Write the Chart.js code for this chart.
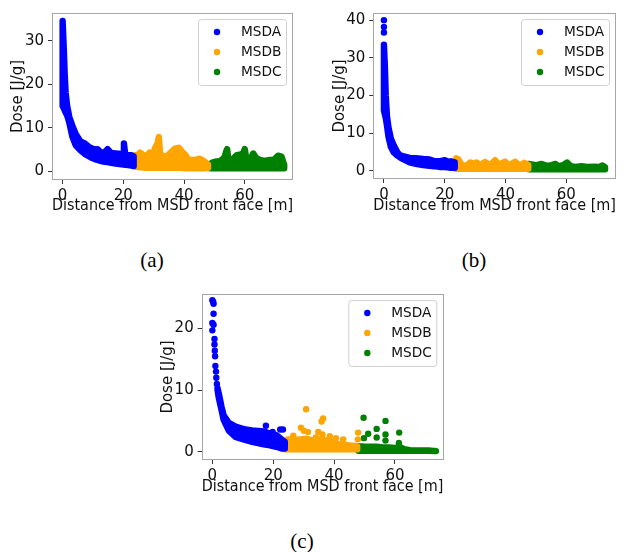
<!DOCTYPE html>
<html><head><meta charset="utf-8">
<script src="https://cdn.jsdelivr.net/npm/chart.js@4.4.0/dist/chart.umd.min.js"></script>
<style>
html,body{margin:0;padding:0;background:#fff;width:632px;height:552px;overflow:hidden;position:relative}
canvas{position:absolute}
.cap{position:absolute;font-family:'Liberation Serif','Times New Roman',serif;font-size:21px;color:#000;transform:translate(-50%,-50%);white-space:nowrap}
</style></head><body>
<canvas id="ca" width="310" height="235" style="left:0;top:0"></canvas>
<canvas id="cb" width="312" height="235" style="left:320px;top:0"></canvas>
<canvas id="cc" width="310" height="235" style="left:150px;top:280px"></canvas>
<div class="cap" style="left:152px;top:260px">(a)</div>
<div class="cap" style="left:474px;top:260px">(b)</div>
<div class="cap" style="left:302px;top:541px">(c)</div>
<script>
// ---------- shared labels / ticks ----------
const seriesNames = ['MSDA', 'MSDB', 'MSDC'];
const seriesColors = ['#0000ff', '#ffa500', '#008000'];
const xTitle = 'Distance from MSD front face [m]';
const yTitle = 'Dose [J/g]';
const xTickVals = [0, 20, 40, 60];
const yTickValsA = [0, 10, 20, 30];
const yTickValsB = [0, 10, 20, 30, 40];
const yTickValsC = [0, 10, 20];

// ---------- panel (a): dense point clouds, upper/lower edge of each cloud ----------
const aDistA = [0, 0.4, 0.7, 1.0, 1.5, 2.2, 3.2, 4.3, 5.8, 7.3, 8.5, 9.5, 10.6, 11.5, 12.5, 13.4, 14.8, 16.0, 17.5, 19.4, 19.9, 20.2, 20.6, 21.0, 22.7, 23.4];
const aHighA = [34.6, 28, 22, 18, 15, 12.5, 10.5, 8.6, 6.9, 6.4, 5.7, 5.3, 5.0, 5.1, 4.4, 4.1, 5.1, 4.2, 4.1, 4.0, 4.2, 6.4, 4.0, 3.7, 3.7, 3.4];
const aLowA  = [15, 14.5, 14, 13.5, 12.8, 11.2, 8.0, 6.0, 4.9, 4.0, 3.5, 3.1, 2.8, 2.6, 2.4, 2.25, 2.1, 1.95, 1.8, 1.6, 1.6, 1.55, 1.5, 1.5, 1.3, 1.2];
const aDistB = [23.4, 23.8, 24.6, 25.5, 26.3, 27.1, 28.0, 28.7, 29.8, 30.6, 31.3, 31.7, 32.1, 32.6, 34.2, 35.6, 37.0, 38.3, 39.2, 40.3, 41.6, 43.5, 45.2, 46.9, 47.9];
const aHighB = [3.3, 3.7, 3.7, 4.3, 3.9, 3.4, 3.8, 4.3, 4.0, 5.6, 6.5, 7.9, 4.2, 3.7, 3.3, 4.3, 5.2, 5.4, 4.6, 3.9, 2.6, 2.6, 2.9, 2.2, 1.5];
const aLowB  = [1.2, 1.1, 1.0, 0.9, 0.9, 0.8, 0.8, 0.8, 0.8, 0.8, 0.8, 0.8, 0.8, 0.8, 0.8, 0.8, 0.8, 0.8, 0.8, 0.7, 0.7, 0.7, 0.7, 0.7, 0.8];
const aDistC = [47.9, 48.5, 49.3, 50.2, 51.5, 52.4, 53.4, 53.9, 54.2, 54.6, 56.0, 57.4, 58.8, 59.6, 60.0, 60.6, 62.0, 62.8, 63.8, 65.0, 66.5, 68.3, 69.5, 71.0, 72.1, 73.0];
const aHighC = [1.6, 1.6, 2.0, 2.2, 2.3, 2.6, 3.3, 4.6, 5.1, 2.6, 2.8, 3.7, 3.9, 4.3, 5.1, 2.5, 3.0, 4.1, 3.0, 2.6, 2.4, 2.6, 2.6, 3.6, 3.4, 1.5];
const aLowC  = [0.8, 0.7, 0.7, 0.7, 0.7, 0.7, 0.7, 0.7, 0.7, 0.7, 0.7, 0.7, 0.7, 0.7, 0.7, 0.7, 0.7, 0.7, 0.7, 0.7, 0.7, 0.7, 0.7, 0.7, 0.7, 0.7];

// ---------- panel (b) ----------
const bDistA = [0, 0.3, 0.6, 1.0, 1.5, 2.3, 3.3, 4.5, 5.2, 6.5, 8.5, 10.5, 12.9, 15.0, 16.5, 18.3, 20.0, 21.0, 22.0, 23.3];
const bHighA = [33.5, 28, 20, 14.5, 11.5, 8.5, 6.6, 4.8, 4.2, 3.8, 3.4, 3.3, 3.1, 3.0, 2.6, 2.5, 2.8, 2.4, 2.5, 2.2];
const bLowA  = [16, 15, 14, 12, 9.0, 6.3, 4.8, 4.0, 3.6, 3.0, 2.2, 1.8, 1.5, 1.3, 1.2, 1.0, 1.0, 0.9, 0.8, 0.8];
const bTopDistA = [0, 0, 0];
const bTopDoseA = [40.0, 38.2, 36.7];
const bDistB = [23.3, 23.8, 24.5, 25.5, 26.5, 27.5, 28.4, 29.5, 30.5, 31.5, 32.5, 33.3, 34.5, 35.5, 36.6, 37.6, 38.5, 39.9, 41.0, 42.0, 43.2, 44.5, 45.5, 46.2, 47.5];
const bHighB = [2.5, 3.3, 3.0, 1.6, 1.3, 1.5, 2.2, 1.8, 2.2, 1.5, 1.9, 2.3, 1.6, 1.9, 2.8, 1.7, 1.9, 2.4, 1.4, 1.8, 2.4, 1.5, 1.7, 2.1, 1.5];
const bLowB  = [0.6, 0.5, 0.5, 0.5, 0.5, 0.5, 0.5, 0.5, 0.5, 0.5, 0.5, 0.5, 0.5, 0.5, 0.5, 0.5, 0.5, 0.5, 0.5, 0.5, 0.5, 0.5, 0.5, 0.5, 0.5];
const bDistC = [47.7, 48.6, 50.0, 51.9, 53.5, 55.2, 56.5, 57.5, 59.0, 60.3, 61.5, 63.0, 65.0, 67.0, 69.0, 71.0, 72.0, 72.8];
const bHighC = [1.8, 1.7, 1.4, 1.8, 1.3, 1.5, 1.8, 1.2, 1.5, 2.2, 1.2, 1.0, 1.2, 1.0, 1.1, 1.0, 1.4, 0.9];
const bLowC  = [0.4, 0.4, 0.4, 0.4, 0.4, 0.4, 0.4, 0.4, 0.4, 0.4, 0.4, 0.4, 0.4, 0.4, 0.4, 0.4, 0.4, 0.4];

// ---------- panel (c): dense core + individual points ----------
const cDistA = [1.7, 2.1, 3.0, 3.7, 5.4, 7.6, 10.8, 13.1, 16.9, 18.6, 21.0, 23.0, 23.8];
const cHighA = [10.3, 9.5, 7.3, 5.9, 4.7, 4.1, 3.6, 3.45, 3.3, 3.0, 2.7, 1.9, 1.6];
const cLowA  = [10.0, 8.8, 6.8, 5.2, 3.4, 2.4, 1.9, 1.6, 1.2, 1.05, 0.8, 0.5, 0.5];
const cPtDistA = [0.0, 0.3, 0.4, 0.4, 0.0, 0.4, 0.0, 0.7, 0.7, 0.8, 0.9, 1.0, 1.2, 1.3, 1.5, 17.6, 19.8, 22.3, 23.2];
const cPtDoseA = [24.6, 24.3, 24.0, 22.4, 20.9, 20.6, 19.7, 18.3, 17.4, 16.4, 15.5, 13.9, 13.0, 12.0, 11.0, 4.2, 3.2, 3.6, 3.6];
const cDistB = [23.8, 25, 27, 29, 31, 33, 35, 37, 39, 41, 43, 45, 47.6];
const cHighB = [1.8, 2.0, 1.9, 2.0, 2.1, 1.8, 2.0, 1.9, 1.6, 1.3, 1.2, 1.0, 0.9];
const cLowB  = [0.4, 0.4, 0.4, 0.4, 0.4, 0.4, 0.4, 0.4, 0.4, 0.4, 0.4, 0.4, 0.4];
const cPtDistB = [30.8, 29.1, 30.1, 31.4, 35.9, 36.4, 34.8, 36.2, 38.6, 40.6, 43.0, 47.9, 47.8, 26.6, 34.0];
const cPtDoseB = [6.9, 3.9, 3.4, 3.2, 4.9, 5.4, 3.2, 2.8, 2.5, 2.2, 2.0, 3.1, 2.0, 2.6, 2.3];
const cDistC = [48.0, 50, 52, 54, 56, 58, 60, 62, 63, 65, 68, 71, 73.5];
const cHighC = [0.9, 0.8, 0.8, 0.8, 0.7, 0.7, 0.6, 0.7, 0.4, 0.25, 0.2, 0.2, 0.1];
const cLowC  = [0.15, 0.15, 0.15, 0.15, 0.15, 0.15, 0.15, 0.15, 0.15, 0.15, 0.15, 0.15, 0.1];
const cPtDistC = [49.7, 56.9, 54.0, 51.2, 56.9, 61.4, 54.0, 49.8, 56.9, 61.3];
const cPtDoseC = [5.5, 5.0, 3.7, 2.9, 2.8, 3.1, 2.3, 2.2, 1.8, 1.4];

// ---------- drawing ----------
const FONT = "'DejaVu Sans', 'Liberation Sans', sans-serif";
const TXT = '#111';
const R = 3.2;
const FS = 15;

function band(xs, hi, lo) {
  const pts = xs.map((x, i) => ({x: x, y: hi[i]}));
  for (let i = xs.length - 1; i >= 0; i--) pts.push({x: xs[i], y: lo[i]});
  pts.push({x: xs[0], y: hi[0]});
  return pts;
}
function pairs(xs, ys) { return xs.map((x, i) => ({x: x, y: ys[i]})); }

const deco = {
  id: 'deco',
  afterDatasetsDraw(chart) {
    const ctx = chart.ctx, a = chart.chartArea;
    ctx.save();
    ctx.strokeStyle = '#a6a6a6'; ctx.lineWidth = 1;
    ctx.strokeRect(Math.round(a.left) + 0.5, Math.round(a.top) + 0.5, Math.round(a.right - a.left) - 1, Math.round(a.bottom - a.top) - 1);
    // legend box
    const w = 88, h = 66;
    const bx = a.right - 7 - w, by = a.top + 6;
    ctx.beginPath();
    if (ctx.roundRect) ctx.roundRect(bx + 0.5, by + 0.5, w, h, 3); else ctx.rect(bx + 0.5, by + 0.5, w, h);
    ctx.fillStyle = 'rgba(255,255,255,0.85)'; ctx.fill();
    ctx.strokeStyle = '#d0d0d0'; ctx.stroke();
    ctx.font = '13.7px ' + FONT; ctx.textBaseline = 'middle'; ctx.textAlign = 'left';
    seriesNames.forEach((n, i) => {
      const yy = by + 13 + i * 20;
      ctx.beginPath(); ctx.arc(bx + 19, yy, R, 0, Math.PI * 2);
      ctx.fillStyle = seriesColors[i]; ctx.fill();
      ctx.fillStyle = TXT; ctx.fillText(n, bx + 43, yy + 0.5);
    });
    ctx.restore();
  }
};

function build(id, p) {
  const ds = [];
  p.series.forEach((s, k) => {
    const col = seriesColors[k];
    if (s.x) ds.push({data: band(s.x, s.hi, s.lo), showLine: true, fill: 'shape', borderColor: col,
      backgroundColor: col, borderWidth: 2 * R, borderJoinStyle: 'round', borderCapStyle: 'round',
      pointRadius: 0, pointHoverRadius: 0, tension: 0});
    if (s.px) ds.push({data: pairs(s.px, s.py), showLine: false, pointRadius: R, pointHoverRadius: R,
      pointBackgroundColor: col, pointBorderWidth: 0, borderWidth: 0, backgroundColor: col});
  });
  const tickFont = {family: FONT, size: FS};
  new Chart(document.getElementById(id), {
    type: 'scatter',
    data: {datasets: ds},
    options: {
      responsive: false, animation: false, events: [],
      layout: {padding: p.pad},
      plugins: {legend: {display: false}, tooltip: {enabled: false}},
      scales: {
        x: {type: 'linear', min: p.xr[0], max: p.xr[1],
          afterBuildTicks: s => { s.ticks = xTickVals.map(v => ({value: v})); },
          afterFit: s => { s.height = p.xH; },
          grid: {drawOnChartArea: false, drawTicks: true, tickLength: 4, tickColor: '#333', tickWidth: 1},
          border: {display: false},
          ticks: {font: tickFont, color: TXT, padding: 3, maxRotation: 0, autoSkip: false},
          title: {display: true, text: xTitle, font: tickFont, color: TXT, padding: {top: 0, bottom: p.xTP}}},
        y: {type: 'linear', min: p.yr[0], max: p.yr[1],
          afterBuildTicks: s => { s.ticks = p.yt.map(v => ({value: v})); },
          afterFit: s => { s.width = p.yW; },
          grid: {drawOnChartArea: false, drawTicks: true, tickLength: 4, tickColor: '#333', tickWidth: 1},
          border: {display: false},
          ticks: {font: tickFont, color: TXT, padding: 4, autoSkip: false},
          title: {display: true, text: yTitle, font: tickFont, color: TXT, padding: {top: p.yTP, bottom: 0}}}
      }
    },
    plugins: [deco]
  });
}

build('ca', {pad: {top: 12, right: 17, left: 0, bottom: 0}, xH: 55, yW: 52, xTP: 19.5, yTP: 9,
  xr: [-3.5, 75.9], yr: [-2.0, 36.4], yt: yTickValsA,
  series: [{x: aDistA, hi: aHighA, lo: aLowA}, {x: aDistB, hi: aHighB, lo: aLowB}, {x: aDistC, hi: aHighC, lo: aLowC}]});
build('cb', {pad: {top: 12.3, right: 16, left: 0, bottom: 0}, xH: 56, yW: 53.3, xTP: 19.5, yTP: 11,
  xr: [-3.5, 76.4], yr: [-2.2, 41.9], yt: yTickValsB,
  series: [{x: bDistA, hi: bHighA, lo: bLowA, px: bTopDistA, py: bTopDoseA}, {x: bDistB, hi: bHighB, lo: bLowB}, {x: bDistC, hi: bHighC, lo: bLowC}]});
build('cc', {pad: {top: 14, right: 16.7, left: 0, bottom: 0}, xH: 55, yW: 51.7, xTP: 18.5, yTP: 9.3,
  xr: [-3.5, 75.9], yr: [-1.35, 25.6], yt: yTickValsC,
  series: [{x: cDistA, hi: cHighA, lo: cLowA, px: cPtDistA, py: cPtDoseA}, {x: cDistB, hi: cHighB, lo: cLowB, px: cPtDistB, py: cPtDoseB}, {x: cDistC, hi: cHighC, lo: cLowC, px: cPtDistC, py: cPtDoseC}]});
</script>
</body></html>
